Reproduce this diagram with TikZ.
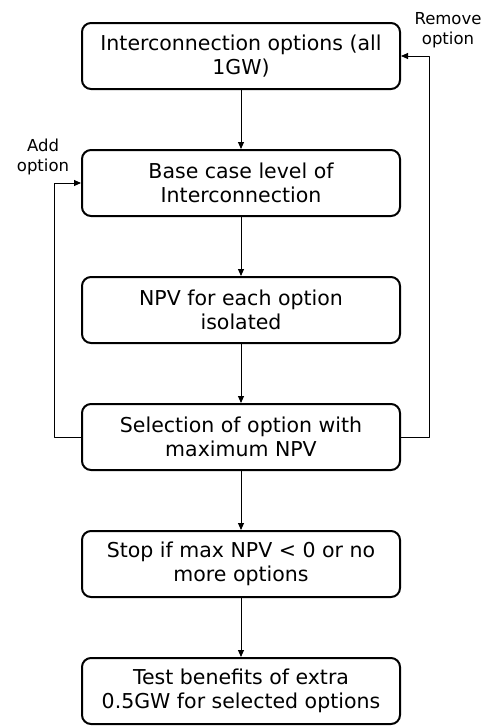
\documentclass[tikz,border=0pt]{standalone}
\usepackage{fontspec}
\setmainfont{DejaVu Sans}
\usetikzlibrary{positioning,arrows.meta}
\tikzset{
    stepbox/.style={draw, line width=2pt, rounded corners=9pt, minimum width=318pt,
        minimum height=66pt, align=center, inner sep=2pt,
        font=\fontsize{20.5}{23.5}\selectfont},
    flow/.style={-{Triangle[width=6pt, length=7pt]}, line width=0.9pt},
    sidelabel/.style={align=center, font=\fontsize{16.5}{20}\selectfont}
}
\begin{document}
\begin{tikzpicture}[x=1pt, y=1pt, node distance=59pt, line join=round]
        \useasboundingbox (0,0) rectangle (492,-726);
        \node[stepbox] (opts) at (241,-56) {Interconnection options (all\\1GW)};
        \node[stepbox, below=of opts] (base) {Base case level of\\Interconnection};
        \node[stepbox, below=of base] (npv) {NPV for each option\\isolated};
        \node[stepbox, below=of npv] (sel) {Selection of option with\\maximum NPV};
        \node[stepbox, below=of sel] (stop) {Stop if max NPV < 0 or no\\more options};
        \node[stepbox, below=of stop] (test) {Test benefits of extra\\0.5GW for selected options};
        % main chain
        \foreach \a/\b in {opts/base, base/npv, npv/sel, sel/stop, stop/test} {
            \draw[flow] (\a) -- (\b);
        }
        % feedback loops
        \coordinate (addcorner) at ([xshift=-27pt]base.west);
        \coordinate (remcorner) at ([xshift=28pt]opts.east);
        \draw[flow] (sel.west) -| (addcorner) -- (base.west);
        \draw[flow] (sel.east) -| (remcorner) -- (opts.east);
        \node[sidelabel] (addlbl) at (43,-157) {Add\\option};
        \node[sidelabel] (remlbl) at (448,-30) {Remove\\option};
    \end{tikzpicture}
\end{document}
